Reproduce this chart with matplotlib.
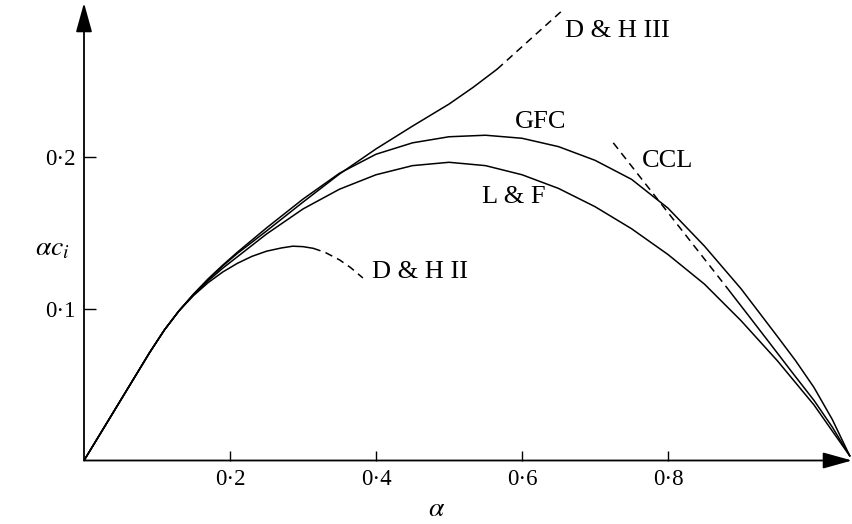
import matplotlib
matplotlib.use("Agg")
import matplotlib.pyplot as plt

plt.rcParams["font.family"] = ["Liberation Serif", "DejaVu Serif"]
plt.rcParams["mathtext.fontset"] = "stix"

# curves (alpha, alpha*c_i)
lf_a = [0, 0.03, 0.06, 0.09, 0.11, 0.13, 0.15, 0.17, 0.19, 0.21, 0.25, 0.30, 0.35,
        0.40, 0.45, 0.50, 0.55, 0.60, 0.65, 0.70, 0.75, 0.80, 0.85, 0.90, 0.95,
        1.00, 1.049]
lf_c = [0, 0.0237, 0.0474, 0.0711, 0.0858, 0.0984, 0.1090, 0.1182, 0.1265, 0.1340,
        0.1490, 0.1655, 0.1785, 0.1880, 0.1940, 0.1962, 0.1940, 0.1880, 0.1790,
        0.1670, 0.1525, 0.1355, 0.1160, 0.0920, 0.0655, 0.0365, 0.0030]

gfc_a = [0, 0.03, 0.06, 0.09, 0.11, 0.13, 0.15, 0.17, 0.19, 0.21, 0.25, 0.30, 0.35,
         0.40, 0.45, 0.50, 0.55, 0.60, 0.65, 0.70, 0.75, 0.80, 0.85, 0.90, 0.95,
         0.975, 1.00, 1.025, 1.049]
gfc_c = [0, 0.0237, 0.0474, 0.0711, 0.0858, 0.0984, 0.1095, 0.1195, 0.1285, 0.1370,
         0.1530, 0.1720, 0.1890, 0.2015, 0.2090, 0.2130, 0.2140, 0.2120, 0.2065,
         0.1975, 0.1850, 0.1660, 0.1410, 0.1130, 0.0815, 0.0655, 0.0480, 0.0270,
         0.0030]

dh3_a = [0, 0.03, 0.06, 0.09, 0.11, 0.13, 0.15, 0.17, 0.19, 0.21, 0.25, 0.30, 0.35,
         0.40, 0.45, 0.50, 0.533, 0.566]
dh3_c = [0, 0.0237, 0.0474, 0.0711, 0.0858, 0.0984, 0.1093, 0.1190, 0.1280, 0.1362,
         0.1510, 0.1700, 0.1885, 0.2050, 0.2200, 0.2345, 0.2455, 0.2575]
dh3_dash_a = [0.566, 0.611, 0.655]
dh3_dash_c = [0.2575, 0.277, 0.296]

dh2_a = [0, 0.03, 0.06, 0.09, 0.11, 0.13, 0.15, 0.17, 0.19, 0.21, 0.23, 0.25, 0.27,
         0.286, 0.30, 0.314]
dh2_c = [0, 0.0237, 0.0474, 0.0711, 0.0858, 0.0984, 0.1085, 0.1170, 0.1240, 0.1297,
         0.1343, 0.1377, 0.1398, 0.1410, 0.1407, 0.1396]
dh2_dash_a = [0.314, 0.33, 0.35, 0.365, 0.382]
dh2_dash_c = [0.1396, 0.1370, 0.1320, 0.1270, 0.1201]

ccl_dash_a = [0.725, 0.881]
ccl_dash_c = [0.209, 0.1135]
ccl_a = [0.881, 0.91, 0.94, 0.97, 1.00, 1.025, 1.049]
ccl_c = [0.1135, 0.0955, 0.0768, 0.0580, 0.0395, 0.0220, 0.0030]

xticks = [0.2, 0.4, 0.6, 0.8]
xlabels = ["0·2", "0·4", "0·6", "0·8"]
yticks = [0.1, 0.2]
ylabels = ["0·1", "0·2"]

fig = plt.figure(figsize=(8.52, 5.24), dpi=100)
ax = fig.add_axes([84 / 852, (524 - 460.5) / 524, (852 - 84) / 852, 457.5 / 524])
ax.set_xlim(0, 1.052)
ax.set_ylim(0, 0.301)

kw = dict(color="black", lw=1.1, solid_capstyle="round", solid_joinstyle="round")
dash = (0, (5, 3.5))
ax.plot(lf_a, lf_c, **kw)
ax.plot(gfc_a, gfc_c, **kw)
ax.plot(dh3_a, dh3_c, **kw)
ax.plot(dh3_dash_a, dh3_dash_c, ls=dash, color="black", lw=1.1)
ax.plot(dh2_a, dh2_c, **kw)
ax.plot(dh2_dash_a, dh2_dash_c, ls=dash, color="black", lw=1.1)
ax.plot(ccl_dash_a, ccl_dash_c, ls=dash, color="black", lw=1.1)
ax.plot(ccl_a, ccl_c, **kw)

# curve labels
lab = dict(fontsize=19, ha="center", va="center")
ax.text(0.730, 0.2826, "D & H III", **lab)
ax.text(0.625, 0.2227, "GFC", **lab)
ax.text(0.589, 0.1734, "L & F", **lab)
ax.text(0.800, 0.197, "CCL", **lab)
ax.text(0.460, 0.124, "D & H II", **lab)

# axes drawn as arrows
for s in ax.spines.values():
    s.set_visible(False)
arrow = dict(arrowstyle="-|>,head_length=0.9,head_width=0.25", color="black",
             lw=1.3, mutation_scale=20, shrinkA=0, shrinkB=0)
ax.annotate("", xy=(1.052, 0), xytext=(0, 0), arrowprops=arrow, annotation_clip=False)
ax.annotate("", xy=(0, 0.301), xytext=(0, 0), arrowprops=arrow, annotation_clip=False)

ax.set_xticks(xticks, xlabels, fontsize=16.5)
ax.set_yticks(yticks, ylabels, fontsize=16.5)
ax.tick_params(axis="x", direction="in", length=7, width=1, pad=6)
ax.tick_params(axis="y", direction="in", length=8.5, width=1, pad=6)

fig.text(437 / 852, 1 - 510 / 524, r"$\alpha$", fontsize=20, ha="center", va="center")
fig.text(52 / 852, 1 - 249 / 524, r"$\alpha c_i$", fontsize=20, ha="center", va="center")

fig.savefig("out.png", dpi=100)
